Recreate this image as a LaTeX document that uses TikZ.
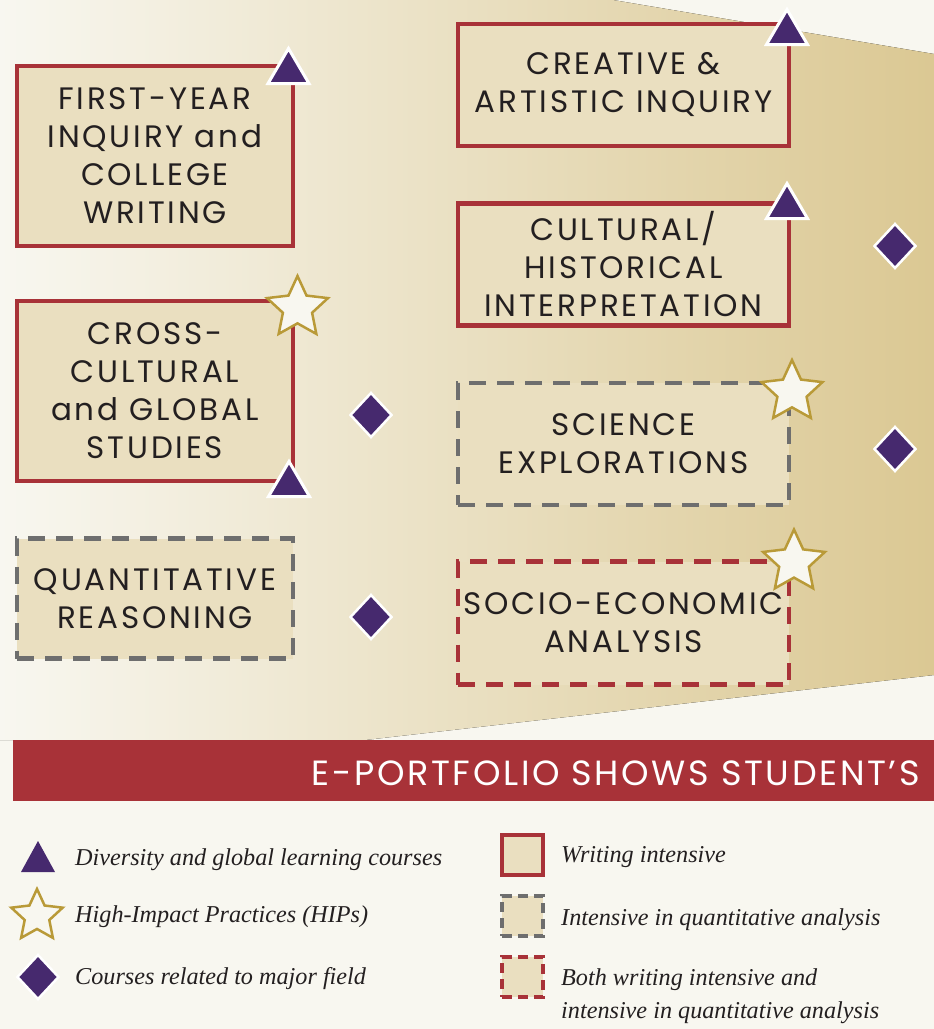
\documentclass[tikz,border=0pt]{standalone}
\usepackage{fontspec}
\newfontfamily\boxfont[LetterSpace=9]{Poppins}
\newfontfamily\barfont[LetterSpace=7.5]{Poppins}
\newfontfamily\legfont{Liberation Serif}
\definecolor{bg}{HTML}{F8F7F0}
\definecolor{tan}{HTML}{DBC893}
\definecolor{boxfill}{HTML}{EADFC0}
\definecolor{wred}{HTML}{A83238}
\definecolor{qgray}{HTML}{6E6E6E}
\definecolor{purp}{HTML}{46296E}
\definecolor{gold}{HTML}{B99A38}
\definecolor{ink}{HTML}{231F20}
\tikzset{
  area/.style={fill=boxfill, line width=4.5pt, text=ink, inner sep=0pt,
    font=\boxfont\fontsize{31}{38}\selectfont, align=center},
  writing/.style={area, draw=wred},
  quant/.style={area, draw=qgray, dash pattern=on 17pt off 11pt},
  bothbox/.style={area, draw=wred, dash pattern=on 17pt off 11pt},
  legsq/.style={fill=boxfill, line width=4.5pt, minimum width=41pt, minimum height=40pt, inner sep=0pt},
  legwriting/.style={legsq, draw=wred},
  legquant/.style={legsq, draw=qgray, dash pattern=on 10pt off 6pt},
  legboth/.style={legsq, draw=wred, dash pattern=on 10pt off 6pt},
  legtext/.style={anchor=base west, text=ink, inner sep=0pt, font=\legfont\itshape\fontsize{24.2}{28}\selectfont},
  bar/.style={fill=wred, inner sep=0pt, minimum width=921pt, minimum height=61pt, anchor=north west},
  bartext/.style={anchor=base east, text=white, inner sep=0pt, font=\barfont\fontsize{35}{40}\selectfont},
  dglstyle/.style={fill=purp, draw=white, line width=3pt, line join=miter},
  legdglstyle/.style={fill=purp},
  majorstyle/.style={fill=purp, draw=white, line width=2.5pt, line join=miter},
  hipstyle/.style={fill=bg, draw=gold, line width=2.5pt, line join=miter},
  pics/dgl/.style={code={\draw[dglstyle] (0,-17.5) -- (20.5,17.5) -- (-20.5,17.5) -- cycle;}},
  pics/legdgl/.style={code={\fill[legdglstyle] (0,-15.5) -- (17,15.5) -- (-17,15.5) -- cycle;}},
  pics/major/.style={code={\draw[majorstyle] (0,-22) -- (20.5,0) -- (0,22) -- (-20.5,0) -- cycle;}},
  pics/hip/.style={code={\draw[hipstyle] (-90:#1)
      \foreach \k in {1,...,4}{ -- ({-126+72*\k}:{0.48*#1}) -- ({-90+72*\k}:#1) }
      -- (234:{0.48*#1}) -- cycle;}},
}
\begin{document}
\begin{tikzpicture}[x=1pt,y=-1pt]
\useasboundingbox[fill=bg] (0,0) rectangle (934,1029);
% gradient backdrop
\fill[left color=bg, right color=tan] (0,0) -- (613,0) -- (934,54) -- (934,675) -- (365,740) -- (0,740) -- cycle;

% boxes
\node[writing, minimum width=276pt, minimum height=180pt] (fy) at (155,156) {FIRST-YEAR\\INQUIRY and\\COLLEGE\\WRITING};
\node[writing, minimum width=276pt, minimum height=180pt] (cc) at (155,391) {CROSS-\\CULTURAL\\and GLOBAL\\STUDIES};
\node[quant, minimum width=276pt, minimum height=120pt] (qr) at (155,598.5) {QUANTITATIVE\\REASONING};
\node[writing, minimum width=331pt, minimum height=122pt] (ca) at (623.5,85) {CREATIVE \&\\ARTISTIC INQUIRY};
\node[writing, minimum width=331pt, minimum height=122pt] (ch) at (623.5,264.5) {CULTURAL/\\HISTORICAL\\INTERPRETATION};
\node[quant, minimum width=331pt, minimum height=122pt] (se) at (623.5,444) {SCIENCE\\EXPLORATIONS};
\node[bothbox, minimum width=331pt, minimum height=123pt] (sa) at (623.5,623) {SOCIO-ECONOMIC\\ANALYSIS};

% markers
\pic at (288.5,66) {dgl};
\pic at (289,479) {dgl};
\pic at (787,27) {dgl};
\pic at (787,201) {dgl};
\pic at (297.5,308) {hip=32};
\pic at (792,392) {hip=32};
\pic at (794,562) {hip=32.5};
\pic at (371,415) {major};
\pic at (371,617) {major};
\pic at (895,246) {major};
\pic at (895,449) {major};

% banner
\node[bar] (banner) at (13,740) {};
\node[bartext] (bannertext) at (920,785) {E-PORTFOLIO SHOWS STUDENT’S};

% legend
\pic at (38,856.5) {legdgl};
\pic at (37,916) {hip=27};
\pic at (38,977) {major};
\node[legtext] (l1) at (75,865) {Diversity and global learning courses};
\node[legtext] (l2) at (75,922) {High-Impact Practices (HIPs)};
\node[legtext] (l3) at (75,984) {Courses related to major field};
\node[legwriting] (s1) at (522.5,855) {};
\node[legquant] (s2) at (522.5,916) {};
\node[legboth] (s3) at (522.5,977) {};
\node[legtext] (l4) at (561,862) {Writing intensive};
\node[legtext] (l5) at (561,925) {Intensive in quantitative analysis};
\node[legtext] (l6) at (561,985) {Both writing intensive and};
\node[legtext] (l7) at (561,1018) {intensive in quantitative analysis};
\end{tikzpicture}
\end{document}
